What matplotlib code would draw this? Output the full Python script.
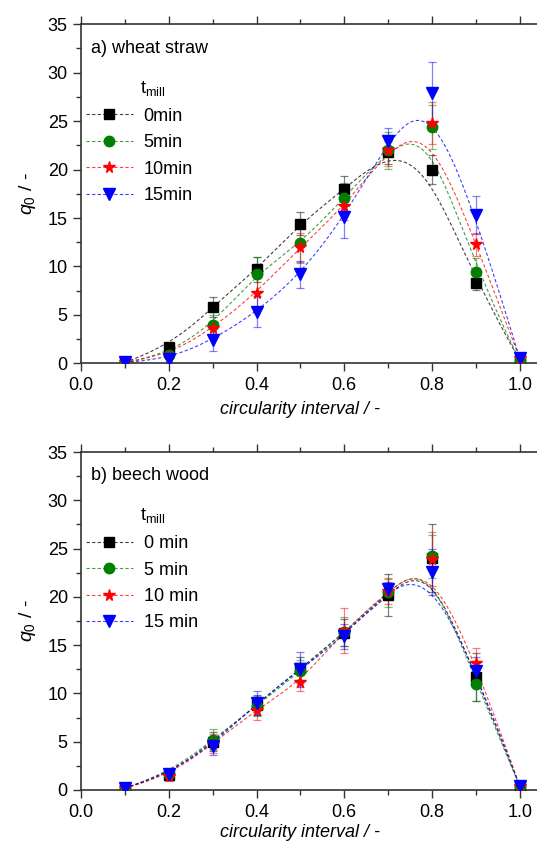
import numpy as np
import matplotlib
matplotlib.use('Agg')
import matplotlib.pyplot as plt
from matplotlib.lines import Line2D
from matplotlib.colors import to_rgba
from matplotlib.ticker import MultipleLocator

plt.rcParams['font.family'] = ['Liberation Sans', 'DejaVu Sans']
plt.rcParams['mathtext.fontset'] = 'custom'
plt.rcParams['mathtext.rm'] = 'Liberation Sans'
plt.rcParams['mathtext.it'] = 'Liberation Sans:italic'

# circularity intervals
x = np.array([0.1, 0.2, 0.3, 0.4, 0.5, 0.6, 0.7, 0.8, 0.9, 1.0])

# a) wheat straw
ws_0 = [0.1, 1.7, 5.8, 9.7, 14.4, 18.0, 21.8, 20.0, 8.3, 0.3]
ws_5 = [0.1, 0.9, 4.0, 9.2, 12.4, 17.1, 22.0, 24.4, 9.4, 0.3]
ws_10 = [0.1, 0.8, 3.6, 7.3, 12.0, 16.2, 22.0, 24.8, 12.3, 0.5]
ws_15 = [0.1, 0.4, 2.4, 5.3, 9.2, 15.1, 23.0, 27.9, 15.3, 0.5]
ws_0_err = [0.1, 0.3, 1.0, 1.3, 1.2, 1.3, 1.2, 1.5, 0.7, 0.1]
ws_5_err = [0.1, 0.4, 1.0, 1.8, 2.0, 1.5, 1.9, 2.3, 1.5, 0.1]
ws_10_err = [0.1, 0.4, 0.8, 1.5, 1.5, 1.4, 1.6, 2.2, 1.2, 0.1]
ws_15_err = [0.1, 0.4, 1.1, 1.6, 1.4, 2.2, 1.3, 3.2, 2.0, 0.1]

# b) beech wood
bw_0 = [0.2, 1.5, 5.0, 8.8, 12.6, 16.3, 20.2, 24.0, 11.7, 0.4]
bw_5 = [0.2, 1.7, 5.2, 8.7, 12.3, 16.4, 20.5, 24.2, 11.0, 0.4]
bw_10 = [0.2, 1.4, 4.8, 8.3, 11.2, 16.5, 20.6, 23.9, 13.2, 0.4]
bw_15 = [0.2, 1.7, 4.6, 9.0, 12.5, 15.9, 20.8, 22.6, 12.3, 0.4]
bw_0_err = [0.1, 0.5, 1.0, 1.0, 1.2, 1.4, 2.2, 3.5, 2.5, 0.1]
bw_5_err = [0.1, 0.5, 1.1, 1.0, 1.2, 1.5, 1.5, 2.2, 1.8, 0.1]
bw_10_err = [0.1, 0.5, 1.0, 1.1, 0.9, 2.3, 1.3, 2.8, 1.5, 0.1]
bw_15_err = [0.1, 0.5, 1.0, 1.2, 1.8, 1.3, 0.7, 2.4, 1.5, 0.1]

colors = ['black', '#008000', 'red', 'blue']
markers = ['s', 'o', '*', 'v']
msizes = [6.5, 7.5, 8.5, 8]

panels = [
    ('a) wheat straw', [ws_0, ws_5, ws_10, ws_15],
     [ws_0_err, ws_5_err, ws_10_err, ws_15_err],
     ['0min', '5min', '10min', '15min']),
    ('b) beech wood', [bw_0, bw_5, bw_10, bw_15],
     [bw_0_err, bw_5_err, bw_10_err, bw_15_err],
     ['0 min', '5 min', '10 min', '15 min']),
]


def bspline(px, py, deg=3, num=300):
    # clamped uniform B-spline with the data points as control points
    px = np.asarray(px, float)
    py = np.asarray(py, float)
    n = len(px)
    knots = np.concatenate([np.zeros(deg), np.arange(n - deg + 1), np.full(deg, n - deg)])
    t = np.linspace(0, n - deg, num)
    t[-1] -= 1e-9
    # degree 0 basis
    B = np.array([((t >= knots[i]) & (t < knots[i + 1])).astype(float)
                  for i in range(len(knots) - 1)])
    for d in range(1, deg + 1):
        Bn = np.zeros((len(knots) - 1 - d, num))
        for i in range(len(knots) - 1 - d):
            left = knots[i + d] - knots[i]
            right = knots[i + d + 1] - knots[i + 1]
            if left > 0:
                Bn[i] += (t - knots[i]) / left * B[i]
            if right > 0:
                Bn[i] += (knots[i + d + 1] - t) / right * B[i + 1]
        B = Bn
    return B.T @ px, B.T @ py


fig = plt.figure(figsize=(5.37, 8.43), dpi=100)
boxes = [[0.1508, 0.5690, 0.858, 0.4022], [0.1508, 0.0629, 0.858, 0.4009]]
label_y = [-0.112, -0.100]

for (title, series, errs, labels), box, ly in zip(panels, boxes, label_y):
    ax = fig.add_axes(box)
    handles = []
    for y, e, c, m, ms, lab in zip(series, errs, colors, markers, msizes, labels):
        lc = to_rgba(c, 0.75)
        cx, cy = bspline(x, y)
        ax.plot(cx, cy, ls=(0, (3, 2)), lw=0.8, color=lc, zorder=2)
        ax.errorbar(x, y, yerr=e, fmt='none', ecolor=c, elinewidth=0.9, capsize=3,
                    capthick=0.9, alpha=0.5, zorder=3)
        ax.plot(x, y, ls='none', marker=m, ms=ms, color=c, mec=c, zorder=4)
        handles.append(Line2D([], [], ls=(0, (3, 2)), lw=0.8, color=lc,
                              marker=m, ms=ms, mfc=c, mec=c))
    ax.set_xlim(0, 1.05)
    ax.set_ylim(0, 35)
    ax.xaxis.set_minor_locator(MultipleLocator(0.1))
    ax.yaxis.set_major_locator(MultipleLocator(5))
    ax.yaxis.set_minor_locator(MultipleLocator(2.5))
    ax.set_xticks([0.0, 0.2, 0.4, 0.6, 0.8, 1.0])
    ax.set_xticklabels(['0.0', '0.2', '0.4', '0.6', '0.8', '1.0'])
    ax.tick_params(axis='both', which='major', labelsize=13, length=6, width=1, color='#333333')
    ax.tick_params(axis='both', which='minor', length=3.5, width=1, color='#333333')
    ax.tick_params(axis='x', which='both', top=True, direction='in')
    ax.tick_params(axis='x', which='both', bottom=True, direction='out', pad=4)
    ax.tick_params(axis='y', which='both', left=True, right=True, direction='out')
    for sp in ax.spines.values():
        sp.set_linewidth(1.2)
        sp.set_color('#333333')
    ax.set_xlabel('circularity interval / -', fontsize=13, style='italic')
    ax.xaxis.set_label_coords(0.5 / 1.05, ly)
    ax.set_ylabel('$\\mathit{q_0}$ / -', fontsize=14)
    ax.yaxis.set_label_coords(-0.093, 0.5)
    ax.text(0.022, 0.93, title, transform=ax.transAxes, fontsize=13, va='center', ha='left')
    ax.text(0.128, 0.812, 't$_{\\mathrm{mill}}$', transform=ax.transAxes, fontsize=13,
            va='center', ha='left')
    ax.legend(handles, labels, loc='upper left', bbox_to_anchor=(-0.005, 0.775),
              frameon=False, fontsize=13, handlelength=2.6, handletextpad=0.6,
              labelspacing=0.52, borderaxespad=0)

fig.savefig('out.png', dpi=100)
